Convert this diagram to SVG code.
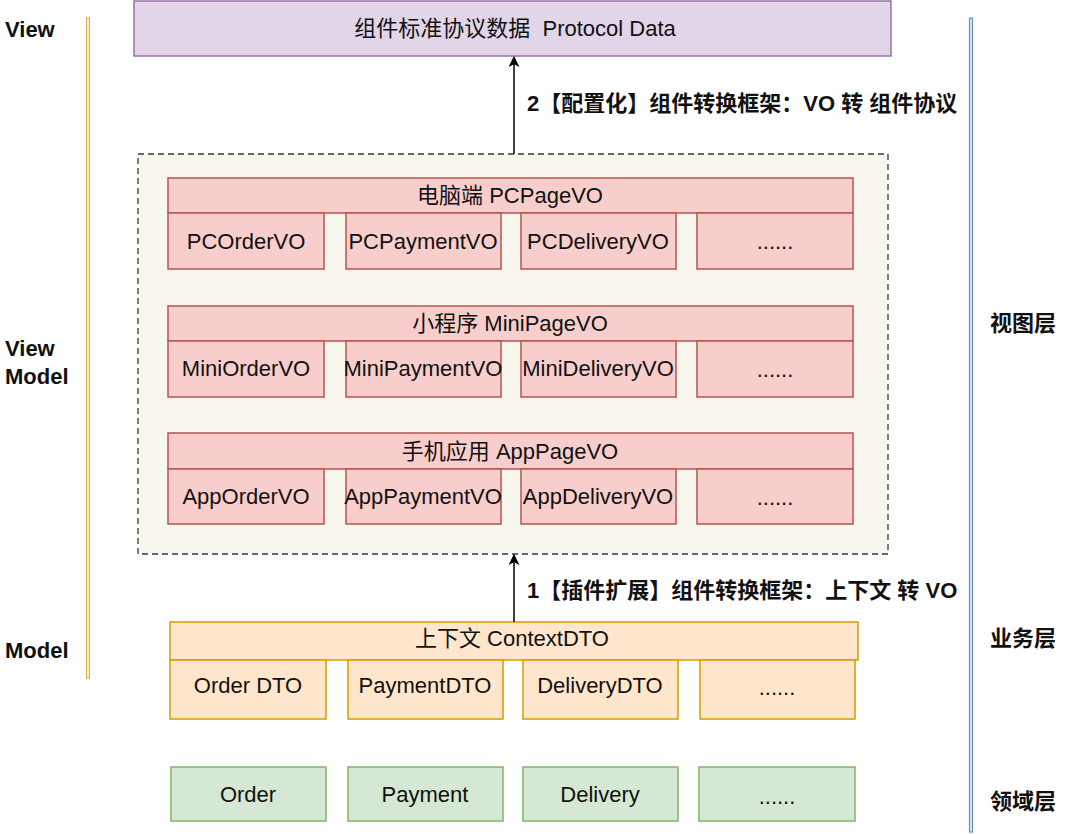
<svg xmlns="http://www.w3.org/2000/svg" width="1080" height="834" viewBox="0 0 1080 834">
<defs>
<style>
text{font-family:"Liberation Sans","Noto Sans CJK SC",sans-serif;fill:#111;text-anchor:middle;dominant-baseline:central}
.t{font-size:22px}
.b{font-weight:bold;font-size:22px}
.l{text-anchor:start}
.pre{white-space:pre}
.red{fill:#f8cecc;stroke:#b85450;stroke-width:1.5}
.org{fill:#ffe6cc;stroke:#d79b00;stroke-width:1.5}
.grn{fill:#d5e8d4;stroke:#82b366;stroke-width:1.5}
.pur{fill:#e1d5e7;stroke:#9673a6;stroke-width:1.5}
.cont{fill:#f9f7ed;stroke:#36393d;stroke-width:1.3;stroke-dasharray:6 4}
.edge{stroke:#000;stroke-width:1.5;fill:none}
</style>
<marker id="ah" viewBox="0 0 10 10" refX="9" refY="5" markerWidth="11" markerHeight="11" markerUnits="userSpaceOnUse" orient="auto">
<path d="M0,0 L10,5 L0,10 L2.5,5 Z" fill="#000"/>
</marker>
</defs>
<rect width="1080" height="834" fill="#fff"/>

<g id="layer-labels">
<text class="b l" x="5" y="29">View</text>
<text class="b l" x="5" y="348">View</text>
<text class="b l" x="5" y="376">Model</text>
<text class="b l" x="5" y="650">Model</text>
<text class="b l" x="990" y="323">视图层</text>
<text class="b l" x="990" y="638">业务层</text>
<text class="b l" x="990" y="801">领域层</text>
<rect x="86.5" y="18" width="3" height="660" fill="#fff2cc" stroke="#d6b656" stroke-width="1.2"/>
<rect x="969.5" y="18" width="3" height="814" fill="#dae8fc" stroke="#6c8ebf" stroke-width="1.2"/>
</g>

<g id="protocol">
<rect class="pur" x="134" y="1" width="757" height="55"/>
<text class="t pre" x="515" y="28" xml:space="preserve">组件标准协议数据  Protocol Data</text>
</g>

<g id="viewmodel-container">
<rect class="cont" x="138" y="154" width="750" height="400"/>
</g>

<g id="pc">
<rect class="red" x="168" y="178" width="685" height="35"/>
<text class="t" x="510" y="195">电脑端 PCPageVO</text>
<rect class="red" x="168" y="213" width="156" height="56"/>
<text class="t" x="246" y="241">PCOrderVO</text>
<rect class="red" x="346" y="213" width="155" height="56"/>
<text class="t" x="423" y="241">PCPaymentVO</text>
<rect class="red" x="521" y="213" width="155" height="56"/>
<text class="t" x="598" y="241">PCDeliveryVO</text>
<rect class="red" x="697" y="213" width="156" height="56"/>
<text class="t" x="775" y="241">......</text>
</g>

<g id="mini">
<rect class="red" x="168" y="306" width="685" height="35"/>
<text class="t" x="510" y="323">小程序 MiniPageVO</text>
<rect class="red" x="168" y="341" width="156" height="56"/>
<text class="t" x="246" y="368">MiniOrderVO</text>
<rect class="red" x="346" y="341" width="155" height="56"/>
<text class="t" x="423" y="368">MiniPaymentVO</text>
<rect class="red" x="521" y="341" width="155" height="56"/>
<text class="t" x="598" y="368">MiniDeliveryVO</text>
<rect class="red" x="697" y="341" width="156" height="56"/>
<text class="t" x="775" y="369">......</text>
</g>

<g id="app">
<rect class="red" x="168" y="433" width="685" height="36"/>
<text class="t" x="510" y="451">手机应用 AppPageVO</text>
<rect class="red" x="168" y="469" width="156" height="55"/>
<text class="t" x="246" y="496">AppOrderVO</text>
<rect class="red" x="346" y="469" width="155" height="55"/>
<text class="t" x="423" y="496">AppPaymentVO</text>
<rect class="red" x="521" y="469" width="155" height="55"/>
<text class="t" x="598" y="496">AppDeliveryVO</text>
<rect class="red" x="697" y="469" width="156" height="55"/>
<text class="t" x="775" y="497">......</text>
</g>

<g id="context">
<rect class="org" x="170" y="622" width="688" height="38"/>
<text class="t" x="512" y="638">上下文 ContextDTO</text>
<rect class="org" x="170" y="660" width="156" height="59"/>
<text class="t" x="248" y="685">Order DTO</text>
<rect class="org" x="348" y="660" width="155" height="59"/>
<text class="t" x="425" y="685">PaymentDTO</text>
<rect class="org" x="523" y="660" width="155" height="59"/>
<text class="t" x="600" y="685">DeliveryDTO</text>
<rect class="org" x="700" y="660" width="155" height="59"/>
<text class="t" x="777" y="687">......</text>
</g>

<g id="domain">
<rect class="grn" x="171" y="767" width="155" height="54"/>
<text class="t" x="248" y="794">Order</text>
<rect class="grn" x="348" y="767" width="155" height="54"/>
<text class="t" x="425" y="794">Payment</text>
<rect class="grn" x="523" y="767" width="155" height="54"/>
<text class="t" x="600" y="794">Delivery</text>
<rect class="grn" x="699" y="767" width="156" height="54"/>
<text class="t" x="777" y="796">......</text>
</g>

<g id="connectors">
<line class="edge" x1="514" y1="154" x2="514" y2="57" marker-end="url(#ah)"/>
<text class="b l" x="527" y="103">2【配置化】组件转换框架：VO 转 组件协议</text>
<line class="edge" x1="514" y1="622" x2="514" y2="555" marker-end="url(#ah)"/>
<text class="b l" x="527" y="590">1【插件扩展】组件转换框架：上下文 转 VO</text>
</g>
</svg>
